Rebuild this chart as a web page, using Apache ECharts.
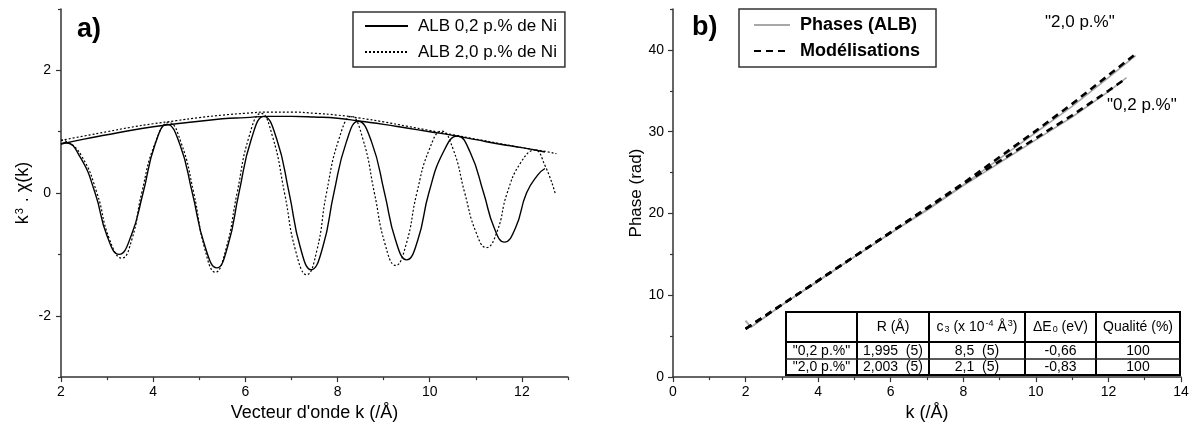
<!DOCTYPE html>
<html>
<head>
<meta charset="utf-8">
<script src="https://cdn.jsdelivr.net/npm/echarts@6/dist/echarts.min.js"></script>
<style>
html,body{margin:0;padding:0;background:#fff;}
#c{width:1196px;height:427px;}
</style>
</head>
<body>
<div id="c"></div>
<script>
// ---------- DATA : panel a ----------
const seriesNameA02 = 'ALB 0,2 p.% de Ni';
const seriesNameA20 = 'ALB 2,0 p.% de Ni';

const kOsc02 = [2.0,2.1,2.42,2.74,3.0,3.26,3.52,3.78,4.04,4.30,4.58,4.85,5.12,5.38,5.62,5.86,6.13,6.40,6.68,6.95,7.19,7.43,7.68,7.92,8.19,8.45,8.74,9.02,9.26,9.50,9.74,9.98,10.29,10.60,10.88,11.17,11.40,11.62,11.86,12.10,12.35,12.50];
const yOsc02 = [0.80,0.82,0.58,0,-0.70,-1.00,-0.70,0,0.79,1.12,0.79,0,-0.86,-1.22,-0.86,0,0.88,1.25,0.88,0,-0.88,-1.25,-0.88,0,0.83,1.17,0.83,0,-0.77,-1.09,-0.77,0,0.66,0.93,0.66,0,-0.57,-0.80,-0.57,0,0.30,0.40];

const kOsc20 = [2.0,2.12,2.45,2.78,3.05,3.32,3.54,3.75,4.04,4.34,4.61,4.88,5.12,5.35,5.58,5.82,6.08,6.34,6.59,6.85,7.09,7.33,7.55,7.76,8.03,8.30,8.55,8.80,9.03,9.26,9.49,9.72,9.99,10.26,10.51,10.76,11.00,11.23,11.46,11.68,11.97,12.28,12.50,12.72];
const yOsc20 = [0.86,0.84,0.60,0,-0.75,-1.06,-0.75,0,0.81,1.15,0.81,0,-0.91,-1.29,-0.91,0,0.92,1.30,0.92,0,-0.94,-1.33,-0.94,0,0.88,1.25,0.88,0,-0.83,-1.18,-0.83,0,0.71,1.01,0.71,0,-0.63,-0.89,-0.63,0,0.49,0.70,0.45,0];

const kEnv02 = [2.0,2.5,3,3.5,4,4.5,5,5.5,6,6.5,7,7.5,8,8.5,9,9.5,10,10.5,11,11.5,12,12.5];
const yEnv02 = [0.80,0.88,0.95,1.02,1.08,1.13,1.17,1.21,1.23,1.25,1.25,1.24,1.22,1.17,1.12,1.06,1.00,0.94,0.87,0.80,0.74,0.67];
const kEnv20 = [2.0,2.5,3,3.5,4,4.5,5,5.5,6,6.5,7,7.5,8,8.5,9,9.5,10,10.5,11,11.5,12,12.5,12.75];
const yEnv20 = [0.86,0.93,1.00,1.07,1.13,1.18,1.23,1.27,1.30,1.32,1.32,1.30,1.27,1.22,1.16,1.09,1.02,0.95,0.88,0.81,0.74,0.68,0.64];

const xTicksA = [2,4,6,8,10,12];
const xMinorA = [3,5,7,9,11,13];
const yTicksA = [-2,0,2];
const yMinorA = [-3,-1,1,3];

// ---------- DATA : panel b ----------
const seriesNameB1 = 'Phases (ALB)';
const seriesNameB2 = 'Modélisations';

const kModel20 = [2,3,4,5,6,7,8,9,10,11,12,12.75];
const model20 = [5.9,8.85,11.8,14.75,17.7,20.7,23.7,26.9,30.1,33.4,36.9,39.5];
const kModel02 = [2,3,4,5,6,7,8,9,10,11,12,12.45];
const model02 = [5.9,8.85,11.8,14.75,17.7,20.6,23.6,26.4,29.2,32.0,35.0,36.4];
const kGray20 = [2.0,2.15,3,4,5,6,7,8,9,10,11,12,12.75];
const gray20 = [6.9,6.1,8.8,11.7,14.7,17.6,20.5,23.5,26.7,29.9,33.1,36.6,39.3];
const kGray02 = [2.0,2.15,3,4,5,6,7,8,9,10,11,12,12.5];
const gray02 = [6.9,6.1,8.8,11.8,14.7,17.6,20.4,23.4,26.2,29.0,31.8,34.9,36.6];

const xTicksB = [0,2,4,6,8,10,12,14];
const xMinorB = [1,3,5,7,9,11,13];
const yTicksB = [0,10,20,30,40];
const yMinorB = [5,15,25,35,45];

const curveLabels = ['"2,0 p.%"', '"0,2 p.%"'];

const tableHeader = ['', 'R (Å)', '{n|c}{sub|3}{n| (x 10}{sup|-4}{n| Å}{sup|3}{n|)}', '{n|ΔE}{sub|0}{n| (eV)}', 'Qualité (%)'];
const tableRows = [
  ['"0,2 p.%"', '1,995  (5)', '8,5  (5)', '-0,66', '100'],
  ['"2,0 p.%"', '2,003  (5)', '2,1  (5)', '-0,83', '100']
];

// ---------- helpers ----------
function zip(a, b) { return a.map((v, i) => [v, b[i]]); }
const FONT = '"Liberation Sans", Arial, Helvetica, sans-serif';
const AXC = '#333';

function mainAxis(grid, min, max, ticks, pos, extra) {
  return Object.assign({
    type: 'value', gridIndex: grid, min: min, max: max, position: pos,
    axisLine: { show: true, onZero: false, lineStyle: { color: AXC, width: 1.5 } },
    axisTick: { show: true, length: 5, customValues: ticks, lineStyle: { color: AXC, width: 1.2 } },
    axisLabel: { show: true, customValues: ticks, fontSize: 14, color: '#000', fontFamily: FONT },
    splitLine: { show: false }
  }, extra);
}
function minorAxis(grid, min, max, ticks, pos) {
  return {
    type: 'value', gridIndex: grid, min: min, max: max, position: pos,
    axisLine: { show: false, onZero: false },
    axisTick: { show: true, length: 3, customValues: ticks, lineStyle: { color: AXC, width: 1.2 } },
    axisLabel: { show: false },
    splitLine: { show: false }
  };
}

const xA = mainAxis(0, 2, 13, xTicksA, 'bottom', {
  name: "Vecteur d'onde k (/Å)", nameLocation: 'middle', nameGap: 24,
  nameTextStyle: { fontSize: 18, color: '#000', fontFamily: FONT }
});
xA.axisLabel.margin = 8;
const yA = mainAxis(0, -3, 3, yTicksA, 'left', {
  name: '{k|k}{sup|3}{k| . χ(k)}', nameLocation: 'middle', nameGap: 28,
  nameTextStyle: { fontSize: 18, color: '#000', fontFamily: FONT,
    rich: { k: { fontSize: 18, fontFamily: FONT, color: '#000' },
            sup: { fontSize: 11, fontFamily: FONT, color: '#000', verticalAlign: 'top', padding: [0, 1, 8, 1] } } }
});
yA.axisLabel.margin = 10;
const xB = mainAxis(1, 0, 14, xTicksB, 'bottom', {
  name: 'k (/Å)', nameLocation: 'middle', nameGap: 24,
  nameTextStyle: { fontSize: 18, color: '#000', fontFamily: FONT }
});
xB.axisLabel.margin = 8;
const yB = mainAxis(1, 0, 45, yTicksB, 'left', {
  name: 'Phase (rad)', nameLocation: 'middle', nameGap: 26,
  nameTextStyle: { fontSize: 17, color: '#000', fontFamily: FONT }
});
yB.axisLabel.margin = 9;

// ---------- table graphic ----------
const colX = [786, 857, 929, 1025, 1096, 1180];
const rowY = [312, 342, 359, 375];
const tbl = [];
tbl.push({ type: 'rect', shape: { x: colX[0], y: rowY[0], width: colX[5] - colX[0], height: rowY[3] - rowY[0] },
  style: { fill: '#fff', stroke: '#000', lineWidth: 2 }, z: 100 });
for (let i = 1; i < 5; i++) {
  tbl.push({ type: 'line', shape: { x1: colX[i], y1: rowY[0], x2: colX[i], y2: rowY[3] }, style: { stroke: '#000', lineWidth: 2 }, z: 101 });
}
tbl.push({ type: 'line', shape: { x1: colX[0], y1: rowY[1], x2: colX[5], y2: rowY[1] }, style: { stroke: '#000', lineWidth: 2 }, z: 101 });
tbl.push({ type: 'line', shape: { x1: colX[0], y1: rowY[2], x2: colX[5], y2: rowY[2] }, style: { stroke: '#222', lineWidth: 1.5 }, z: 101 });
const richT = {
  n: { fontSize: 14, fontFamily: FONT, color: '#000' },
  sub: { fontSize: 9, fontFamily: FONT, color: '#000', verticalAlign: 'bottom', padding: [6, 0, 0, 1] },
  sup: { fontSize: 9, fontFamily: FONT, color: '#000', verticalAlign: 'top', padding: [0, 0, 6, 1] }
};
tableHeader.forEach((t, i) => {
  if (!t) return;
  tbl.push({ type: 'text', z: 102, style: { text: t, x: (colX[i] + colX[i + 1]) / 2, y: (rowY[0] + rowY[1]) / 2,
    align: 'center', verticalAlign: 'middle', fontSize: 14, fontFamily: FONT, fill: '#000', rich: richT } });
});
tableRows.forEach((row, r) => {
  row.forEach((t, i) => {
    tbl.push({ type: 'text', z: 102, style: { text: t, x: (colX[i] + colX[i + 1]) / 2, y: (rowY[r + 1] + rowY[r + 2]) / 2 + 0.5,
      align: 'center', verticalAlign: 'middle', fontSize: 14, fontFamily: FONT, fill: '#000' } });
  });
});

const graphics = [
  { type: 'text', left: 77, top: 16, style: { text: 'a)', fontSize: 27, fontWeight: 'bold', fontFamily: FONT, fill: '#000' } },
  { type: 'text', left: 692, top: 14, style: { text: 'b)', fontSize: 27, fontWeight: 'bold', fontFamily: FONT, fill: '#000' } },
  { type: 'text', style: { text: curveLabels[0], x: 1045, y: 22, verticalAlign: 'middle', fontSize: 17, fontFamily: FONT, fill: '#000' } },
  { type: 'text', style: { text: curveLabels[1], x: 1107, y: 105, verticalAlign: 'middle', fontSize: 17, fontFamily: FONT, fill: '#000' } }
].concat(tbl);

const solidA = { color: '#000', width: 1.4, type: 'solid' };
const dotA = { color: '#000', width: 1.2, type: [2, 2] };
const grayB = { color: '#a8a8a8', width: 1.6, type: 'solid' };
const dashB = { color: '#000', width: 2.6, type: [7, 5] };

function line(name, xi, yi, data, ls, smooth) {
  return { type: 'line', name: name, xAxisIndex: xi, yAxisIndex: yi, data: data, symbol: 'none', showSymbol: false,
    smooth: smooth, lineStyle: ls, itemStyle: { color: ls.color }, animation: false, silent: true };
}

const option = {
  animation: false,
  backgroundColor: '#fff',
  textStyle: { fontFamily: FONT },
  grid: [
    { left: 61, top: 9, width: 507, height: 372 },
    { left: 673, top: 9, width: 508, height: 372 }
  ],
  xAxis: [xA, minorAxis(0, 2, 13, xMinorA, 'bottom'), xB, minorAxis(1, 0, 14, xMinorB, 'bottom')],
  yAxis: [yA, minorAxis(0, -3, 3, yMinorA, 'left'), yB, minorAxis(1, 0, 45, yMinorB, 'left')],
  legend: [
    { data: [seriesNameA02, seriesNameA20], orient: 'vertical', left: 353, top: 12, selectedMode: false,
      itemWidth: 43, itemHeight: 14, itemGap: 6, padding: [4, 8, 5, 11],
      itemStyle: { opacity: 0 },
      backgroundColor: '#fff', borderColor: '#333', borderWidth: 1.5,
      textStyle: { fontSize: 17, color: '#000', fontFamily: FONT, lineHeight: 20, padding: [0, 0, 0, 5] } },
    { data: [seriesNameB1, seriesNameB2], orient: 'vertical', left: 739, top: 9, selectedMode: false,
      itemWidth: 36, itemHeight: 14, itemGap: 6, padding: [6, 16, 6, 14],
      itemStyle: { opacity: 0 },
      backgroundColor: '#fff', borderColor: '#333', borderWidth: 1.5,
      textStyle: { fontSize: 18, fontWeight: 'bold', color: '#000', fontFamily: FONT, lineHeight: 20, padding: [0, 0, 0, 5] } }
  ],
  graphic: graphics,
  series: [
    line(seriesNameA02, 0, 0, zip(kEnv02, yEnv02), solidA, true),
    line(seriesNameA02, 0, 0, zip(kOsc02, yOsc02), solidA, 0.5),
    line(seriesNameA20, 0, 0, zip(kEnv20, yEnv20), dotA, true),
    line(seriesNameA20, 0, 0, zip(kOsc20, yOsc20), dotA, 0.5),
    line(seriesNameB1, 2, 2, zip(kGray20, gray20), grayB, false),
    line(seriesNameB1, 2, 2, zip(kGray02, gray02), grayB, false),
    line(seriesNameB2, 2, 2, zip(kModel20, model20), dashB, false),
    line(seriesNameB2, 2, 2, zip(kModel02, model02), dashB, false)
  ]
};

const chart = echarts.init(document.getElementById('c'), null, { renderer: 'canvas' });
chart.setOption(option);
</script>
</body>
</html>
